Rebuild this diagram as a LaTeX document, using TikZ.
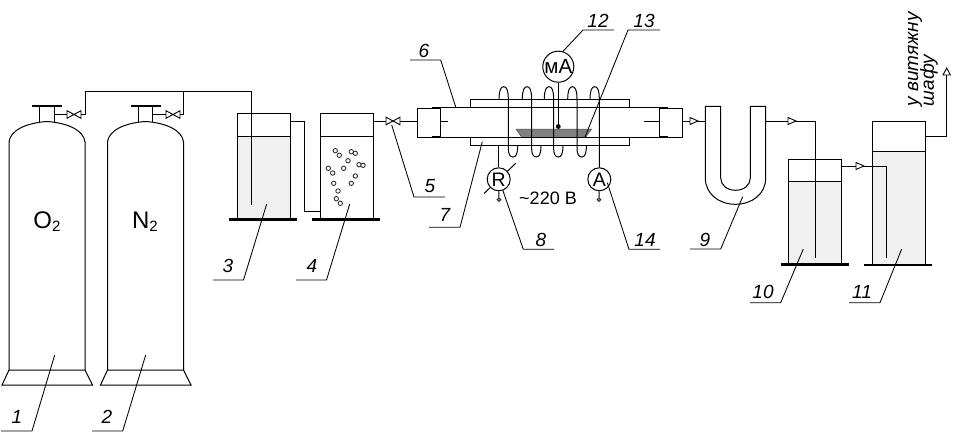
\documentclass[tikz,border=0pt]{standalone}
\usepackage{fontspec}
\setmainfont{Liberation Sans}
\usetikzlibrary{calc}
\tikzset{
  ln/.style={draw=black,line width=1pt},
  lead/.style={draw=black,line width=0.85pt},
  bar/.style={draw=black,line width=2.8pt},
  bubble/.style={draw=black!80,line width=0.9pt,fill=white},
  vessel/.style={draw=black,line width=1pt,inner sep=0pt,anchor=north west,minimum width=53pt},
  lab/.style={font=\fontsize{19}{19}\selectfont\itshape,inner sep=0pt},
  gauge/.style={circle,draw=black,line width=1pt,fill=white,inner sep=0pt,minimum size=23pt,font=\fontsize{19.5}{19.5}\selectfont},
  term/.style={circle,draw=black!80,line width=0.9pt,fill=black!45,inner sep=0pt,minimum size=3.8pt},
  gas/.style={font=\fontsize{24}{24}\selectfont,inner sep=0pt},
  rot/.style={font=\fontsize{19}{19}\selectfont\itshape,rotate=90,anchor=west,inner sep=0pt}
}
\newcommand{\valveat}[2]{\draw[ln,fill=white,line width=0.9pt] (#1-7,#2-3.8) -- (#1+7,#2+3.8) -- (#1+7,#2-3.8) -- (#1-7,#2+3.8) -- cycle;}
\newcommand{\tri}[2]{\draw[ln,fill=white,line width=0.9pt] (#1,#2-3.5) -- (#1+8,#2) -- (#1,#2+3.5) -- cycle;}
\newcommand{\leader}[9]{%
  \coordinate (#1a) at (#2,#3);\coordinate (#1b) at (#4,#5);\coordinate (#1c) at (#6,#5);
  \node[lab] (#1t) at (#7,#8) {#9};
  \draw[lead] (#1a) -- (#1b) -- (#1c);}
\newcommand{\cylinder}[2]{%
  \draw[ln] (#1,370) -- (#1,142) .. controls (#1+1,131) and (#1+16,123) .. (#1+38,121.5)
    .. controls (#1+60,123) and (#1+75,131) .. (#1+76,142) -- (#1+76,370) -- cycle;
  \draw[ln] (#1,370) -- (#1-7,385) -- (#1+83.5,385) -- (#1+76,370);
  \draw[ln] (#1+30.5,122) -- (#1+30.5,106) (#1+45,106) -- (#1+45,122);
  \draw[bar] (#1+23,106) -- (#1+53,106);}
\begin{document}
\begin{tikzpicture}[x=1pt,y=-1pt]
\useasboundingbox (0,0) rectangle (953,434);
\fill[white] (0,0) rectangle (953,434);
% cylinders
\cylinder{9}{}
\cylinder{107.5}{}
\node[gas] (o2) at (47,222) {O\raisebox{-3pt}{\fontsize{15}{15}\selectfont 2}};
\node[gas] (n2) at (145,222) {N\raisebox{-3pt}{\fontsize{15}{15}\selectfont 2}};
% gas line
\coordinate (c1n) at (54,114.5);\coordinate (c1e) at (85,114.5);
\coordinate (c2n) at (152.5,114.5);\coordinate (c2e) at (183.5,114.5);
\coordinate (t1) at (85,91.5);\coordinate (t2) at (183.5,91.5);
\coordinate (t3) at (251.5,91.5);\coordinate (t4) at (251.5,205);
% vessel 3, 4
\fill[black!6] (236.5,136) rectangle (289.5,219);
\node[vessel,minimum height=106pt] (v3) at (236.5,113) {};
\node[vessel,minimum height=106pt] (v4) at (319.5,113) {};
\draw[ln] (v3.west |- 0,136) -- (v3.east |- 0,136);
\draw[ln] (v4.west |- 0,136) -- (v4.east |- 0,136);
\draw[bar] (229,219.5) -- (297,219.5);
\draw[bar] (312,219.5) -- (380,219.5);
\draw[ln] (c1n) -- (c1e) -- (t1) -- (t3) -- (t4);
\draw[ln] (c2n) -- (c2e) -- (t2);
\valveat{74}{114.5}
\valveat{173}{114.5}
\coordinate (l1) at (289.5,121);\coordinate (l2) at (304,121);\coordinate (l3) at (304,211);\coordinate (l4) at (319.5,211);
\draw[ln] (l1) -- (l2) -- (l3) -- (l4);
\foreach \a/\b in {335.3/150.7,339.3/155.3,351.3/151.7,355.3/153.3,348/160.7,359/164.7,363/165.3,343.7/168.3,328.3/168.3,332.7/173,355.3/176,351.3/183.3,333.7/183.3,338/191,336.3/198.7,340.3/203.3}
  \draw[bubble] (\a,\b) circle (2.2pt);
% to reactor
\coordinate (r0) at (372.5,121);\coordinate (r1) at (417.3,121);
\draw[ln] (r0) -- (r1);
\valveat{393}{121}
% reactor
\draw[ln] (470.3,99.3) rectangle (629.7,145.3);
\draw[ln,fill=white] (440.3,107.5) rectangle (659.3,137.3);
\node[vessel,minimum width=23pt,minimum height=29pt] (bl) at (417.3,108) {};
\node[vessel,minimum width=23pt,minimum height=29pt] (br) at (659.3,108) {};
\draw[bar,line width=1.8pt] (432,108) -- (440.3,108) (432,137) -- (440.3,137);
\draw[bar,line width=1.8pt] (659.3,108) -- (668,108) (659.3,137) -- (668,137);
\draw[ln] (440.3,121) -- (448,121) (644,121) -- (659.3,121);
\draw[fill=black!50,draw=black!70,line width=0.5pt] (516,129) -- (591.7,129) -- (585.7,137.3) -- (521.7,137.3) -- cycle;
\draw[ln] (440.3,137.3) -- (659.3,137.3);
% coil
\foreach \x in {0,23.3,45.3,68.7}{
  \begin{scope}[xshift=\x pt]
  \draw[ln] (499,99.3) .. controls (499,90) and (501,86.7) .. (503.7,86.7) .. controls (506.5,86.7) and (508.3,90) .. (508.3,99)
    -- (508.3,148) .. controls (508.3,154) and (510,157) .. (513,157) .. controls (516,157) and (517.7,154) .. (517.7,145.3);
  \end{scope}}
% gauges
\node[gauge,minimum size=30pt,font=\fontsize{20.5}{20.5}\selectfont] (ma) at (558.3,66.7) {мА};
\coordinate (madot) at (558.3,126.5);
\draw[ln] (ma) -- (madot);
\fill (madot) circle (2.4pt);
\coordinate (rs1) at (484,193.5);\coordinate (rs2) at (515.7,163.3);
\draw[ln] (rs1) -- (rs2);
\node[gauge] (rg) at (498.7,179.3) {R};
\node[gauge] (ag) at (599.3,179.3) {A};
\coordinate (rtop) at (498.7,145.3);
\draw[ln] (rtop) -- (rg);
\draw[ln] (590,99.3) .. controls (590,90) and (592,86.7) .. (594.7,86.7) .. controls (597.5,86.7) and (599.3,90) .. (599.3,99) -- (ag);
\node[term] (rt) at (499,199.7) {};
\node[term] (at) at (599,199.7) {};
\draw[ln] (rg) -- (rt);
\draw[ln] (ag) -- (at);
\node[font=\fontsize{18}{18}\selectfont,inner sep=0pt] (v220) at (548,198) {\textasciitilde 220 В};
% U-tube
\coordinate (u0) at (682.5,121);\coordinate (u1) at (705.3,121);
\draw[ln] (u0) -- (u1);
\tri{690}{121}
\draw[ln] (705.3,106.3) -- (705.3,178) .. controls (705.3,194) and (719,204.3) .. (735.5,204.3) .. controls (752,204.3) and (765.7,194) .. (765.7,178) -- (765.7,106.3) -- (750.3,106.3) -- (750.3,178)
  .. controls (750.3,185) and (744,190.3) .. (735.5,190.3) .. controls (727,190.3) and (720.7,185) .. (720.7,178) -- (720.7,106.3) -- cycle;
% vessels 10, 11
\fill[black!6] (788.3,181.3) rectangle (841.7,264);
\fill[black!6] (871.7,151.3) rectangle (924.7,265);
\node[vessel,minimum height=105pt] (v10) at (788.3,159.3) {};
\node[vessel,minimum height=144pt] (v11) at (871.7,121.3) {};
\draw[ln] (788.3,181.3) -- (841.7,181.3);
\draw[ln] (871.7,151.3) -- (924.7,151.3);
\draw[bar] (781,264.5) -- (849,264.5);
\draw[bar] (864,265) -- (932,265);
\coordinate (a0) at (765.7,121);\coordinate (a1) at (815.7,121);\coordinate (a2) at (815.7,257.7);
\draw[ln] (a0) -- (a1) -- (a2);
\tri{788}{121}
\coordinate (b0) at (841.7,166);\coordinate (b1) at (886.3,166);\coordinate (b2) at (886.3,257.7);
\draw[ln] (b0) -- (b1) -- (b2);
\tri{856}{166}
\coordinate (e0) at (924.7,136.3);\coordinate (e1) at (946.7,136.3);\coordinate (e2) at (946.7,75);
\draw[ln] (e0) -- (e1) -- (e2);
\draw[ln,fill=white,line width=0.9pt] (943,75) -- (946.7,68) -- (950.4,75) -- cycle;
\node[rot] (ex1) at (915,106.5) {у витяжну};
\node[rot] (ex2) at (929,106.5) {шафу};
% leaders
\leader{L1}{54.7}{355}{32}{431}{1}{17}{417}{1}
\leader{L2}{145.7}{355}{122.7}{431}{92}{107}{417}{2}
\leader{L3}{266.7}{204}{243.5}{280}{213}{228}{266}{3}
\leader{L4}{349.7}{204}{326.5}{280}{296}{312}{266}{4}
\leader{L5}{391.7}{125}{414}{197}{445}{430}{186}{5}
\leader{L6}{455.7}{107}{440.7}{60}{410}{424}{51}{6}
\leader{L7}{482.3}{141.7}{460}{227.3}{429}{445}{215}{7}
\leader{L8}{502.7}{190}{523.3}{249.3}{554}{541}{240}{8}
\leader{L14}{607.3}{182.7}{629}{249.3}{660}{645}{240}{14}
\leader{L12}{562.7}{51.7}{583}{30}{614}{598}{21}{12}
\leader{L13}{585}{137}{628}{30}{660}{644}{21}{13}
\leader{L9}{742.7}{196.7}{720.7}{249}{690}{705}{240}{9}
\leader{L10}{803.3}{249}{780.7}{302.7}{750}{763}{292}{10}
\leader{L11}{901.7}{249}{880}{302.7}{849}{862}{292}{11}
\end{tikzpicture}
\end{document}
